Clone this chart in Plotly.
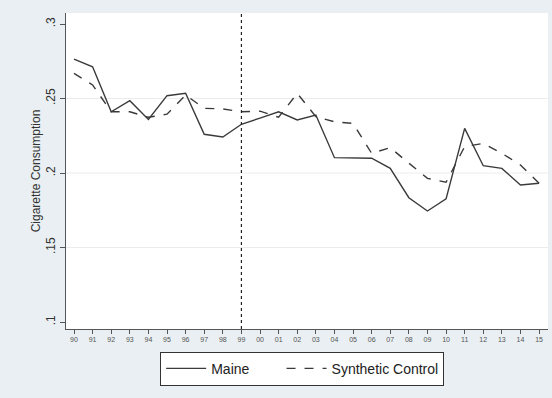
import plotly.graph_objects as go

# Annual cigarette consumption, Maine vs. its synthetic control
years = ["90", "91", "92", "93", "94", "95", "96", "97", "98", "99",
         "00", "01", "02", "03", "04", "05", "06", "07", "08", "09",
         "10", "11", "12", "13", "14", "15"]
maine = [0.2765, 0.2713, 0.2411, 0.2485, 0.2360, 0.2519, 0.2535, 0.2260, 0.2242, 0.2327,
         0.2369, 0.2411, 0.2356, 0.2389, 0.2103, 0.2103, 0.2099, 0.2031, 0.1834, 0.1745,
         0.1826, 0.2300, 0.2049, 0.2031, 0.1920, 0.1931]
synthetic = [0.2669, 0.2591, 0.2411, 0.2411, 0.2374, 0.2395, 0.2523, 0.2434, 0.2430, 0.2411,
             0.2415, 0.2374, 0.2535, 0.2378, 0.2344, 0.2333, 0.2132, 0.2170, 0.2066, 0.1964,
             0.1938, 0.2177, 0.2199, 0.2132, 0.2054, 0.1931]
y_ticks = [0.1, 0.15, 0.2, 0.25, 0.3]
y_tick_text = [".1", ".15", ".2", ".25", ".3"]
grid_values = [0.15, 0.2, 0.25]
treatment_year = "99"

x = list(range(len(years)))
line_color = "#3a3a3a"
pad = "\u00a0" * 7  # extra room after the first legend entry

fig = go.Figure()
fig.add_trace(go.Scatter(x=x, y=maine, mode="lines", name="Maine" + pad,
                         line=dict(color=line_color, width=1.4)))
fig.add_trace(go.Scatter(x=x, y=synthetic, mode="lines", name="Synthetic Control",
                         line=dict(color=line_color, width=1.4, dash="dash")))

# interior gridlines only
for g in grid_values:
    fig.add_hline(y=g, line=dict(color="#ececec", width=1), layer="below")

# treatment marker
fig.add_vline(x=years.index(treatment_year), line=dict(color="#222", width=1.2, dash="dot"))

fig.update_layout(
    width=552, height=398,
    margin=dict(l=66, r=4, t=13, b=69),
    paper_bgcolor="#e9eff2",
    plot_bgcolor="white",
    font=dict(family="Liberation Sans, Arial, sans-serif", color="#333"),
    showlegend=True,
    legend=dict(orientation="h", x=0.49, xanchor="center", y=-0.072, yanchor="top",
                bgcolor="white", bordercolor="#333", borderwidth=1,
                font=dict(size=14, color="#222"), itemwidth=40),
)
fig.update_xaxes(
    range=[-0.43, 25.48], tickmode="array", tickvals=x, ticktext=years,
    showgrid=False, zeroline=False, showline=True, linecolor="#555", linewidth=1,
    ticks="outside", ticklen=4, tickcolor="#555", tickfont=dict(size=7, color="#555"),
    tickangle=0,
)
fig.update_yaxes(
    range=[0.0953, 0.3074], tickmode="array", tickvals=y_ticks, ticktext=y_tick_text,
    showgrid=False, zeroline=False,
    showline=True, linecolor="#555", linewidth=1,
    ticks="outside", ticklen=5, tickcolor="#555", tickfont=dict(size=12, color="#333"),
    tickangle=-90,
    title=dict(text="Cigarette Consumption", font=dict(size=12, color="#333"), standoff=1),
)

fig.write_html("out.html")
